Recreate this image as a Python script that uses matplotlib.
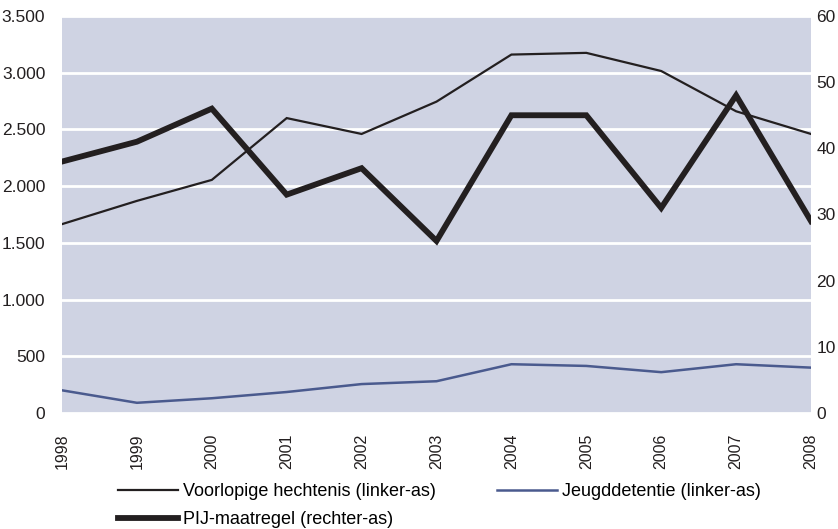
import numpy as np
from matplotlib import pyplot as plt

plt.rcParams['font.family'] = ['Liberation Sans', 'DejaVu Sans']

# data
years = [1998, 1999, 2000, 2001, 2002, 2003, 2004, 2005, 2006, 2007, 2008]
voorlopige = [1665, 1870, 2055, 2600, 2460, 2745, 3160, 3175, 3015, 2660, 2460]
jeugd = [200, 90, 130, 185, 255, 280, 430, 415, 360, 430, 400]
pij = [38, 41, 46, 33, 37, 26, 45, 45, 31, 48, 29]

labels = ["Voorlopige hechtenis (linker-as)", "Jeugddetentie (linker-as)",
          "PIJ-maatregel (rechter-as)"]

bg = '#cfd3e3'
dark = '#231f20'
blue = '#4a5a8e'

fig = plt.figure(figsize=(8.38, 5.29), dpi=100)
ax = fig.add_axes([62/838, 1 - 413/529, (811 - 62)/838, (413 - 16)/529])
ax2 = ax.twinx()

l1, = ax.plot(years, voorlopige, color=dark, lw=1.6, solid_joinstyle='miter')
l2, = ax.plot(years, jeugd, color=blue, lw=1.8)
l3, = ax2.plot(years, pij, color=dark, lw=4.2, solid_joinstyle='miter')

ax.set_facecolor(bg)
ax.set_xlim(1998, 2008)
ax.set_ylim(0, 3500)
ax2.set_ylim(0, 60)
ax.set_yticks(np.arange(0, 3501, 500))
ax.set_yticklabels([f"{v:,}".replace(",", ".") for v in range(0, 3501, 500)])
ax2.set_yticks(np.arange(0, 61, 10))
ax.set_xticks(years)
ax.set_xticklabels([str(y) for y in years], rotation=90)

ax.grid(axis='y', color='white', lw=2)
ax.set_axisbelow(True)
for a in (ax, ax2):
    for s in a.spines.values():
        s.set_visible(False)
ax.tick_params(axis='y', length=0, labelsize=12.5, colors=dark, pad=12)
ax.tick_params(axis='x', length=0, labelsize=11.5, colors=dark, pad=15)
ax2.tick_params(axis='y', length=0, labelsize=12.5, colors=dark, pad=4)

# column-major order so that PIJ ends up on the second row
fig.legend([l1, l3, l2], [labels[0], labels[2], labels[1]], loc='upper left',
           ncol=2, bbox_to_anchor=(118/838, 1 - 483/529), frameon=False,
           fontsize=13, handlelength=3.3, handletextpad=0.3,
           columnspacing=3.4, labelspacing=0.62, borderaxespad=0,
           borderpad=0)

fig.savefig('out.png', dpi=100)
